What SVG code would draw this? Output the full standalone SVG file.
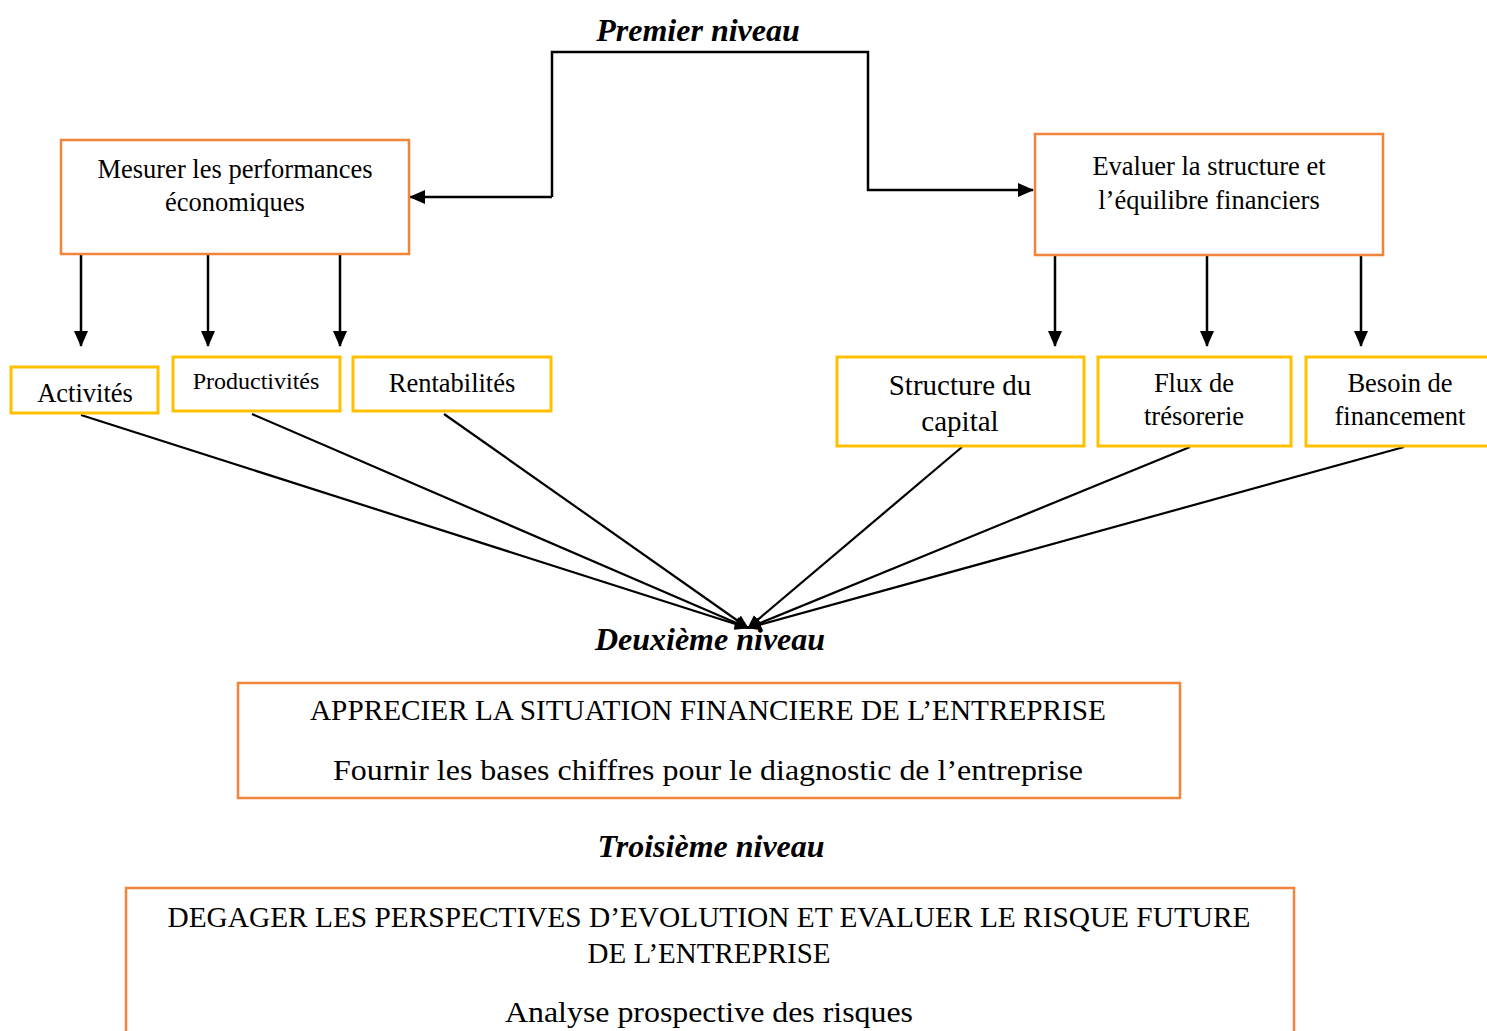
<svg xmlns="http://www.w3.org/2000/svg" width="1487" height="1031" viewBox="0 0 1487 1031">
<style>
text{font-family:"Liberation Serif","Times New Roman",serif;fill:#000;text-anchor:middle}
.t{font-size:26.5px}
.h{font-size:32px;font-weight:bold;font-style:italic}
.big{font-size:28.5px}
.big2{font-size:30px}
.o{fill:#fff;stroke:#F0843A;stroke-width:2.5}
.y{fill:#fff;stroke:#FFC000;stroke-width:3}
.c{fill:none;stroke:#000;stroke-width:2.5}
.d{fill:none;stroke:#000;stroke-width:2.2}
</style>
<defs>
<marker id="a" markerUnits="userSpaceOnUse" markerWidth="16" markerHeight="14" refX="15" refY="7" orient="auto"><path d="M0,0 L16,7 L0,14 Z" fill="#000"/></marker>
<marker id="s" markerUnits="userSpaceOnUse" markerWidth="14" markerHeight="12" refX="13" refY="6" orient="auto"><path d="M0,0 L14,6 L0,12 Z" fill="#000"/></marker>
</defs>
<rect width="1487" height="1031" fill="#fff"/>
<g id="connectors">
<path class="c" d="M552,197 V52 H868 V190 H1033" marker-end="url(#a)"/>
<path class="c" d="M552,197 H410" marker-end="url(#a)"/>
<path class="c" d="M81,255 V346" marker-end="url(#a)"/>
<path class="c" d="M208,255 V346" marker-end="url(#a)"/>
<path class="c" d="M340,255 V346" marker-end="url(#a)"/>
<path class="c" d="M1055,256 V346" marker-end="url(#a)"/>
<path class="c" d="M1207,256 V346" marker-end="url(#a)"/>
<path class="c" d="M1361,256 V346" marker-end="url(#a)"/>
<path class="d" d="M81,415 L748,628" marker-end="url(#s)"/>
<path class="d" d="M252,414 L748,628" marker-end="url(#s)"/>
<path class="d" d="M444,414 L748,628" marker-end="url(#s)"/>
<path class="d" d="M962,447 L748,628" marker-end="url(#s)"/>
<path class="d" d="M1190,447 L748,628" marker-end="url(#s)"/>
<path class="d" d="M1404,447 L748,628" marker-end="url(#s)"/>
</g>
<text class="h" x="698" y="41">Premier niveau</text>
<g id="mesurer">
<rect class="o" x="61" y="140" width="348" height="114"/>
<text class="t" x="235" y="178">Mesurer les performances</text>
<text class="t" x="235" y="211">économiques</text>
</g>
<g id="evaluer">
<rect class="o" x="1035" y="134" width="348" height="121"/>
<text class="t" x="1209" y="175">Evaluer la structure et</text>
<text class="t" x="1209" y="209">l’équilibre financiers</text>
</g>
<g id="activites">
<rect class="y" x="11" y="367" width="147" height="46"/>
<text class="t" x="85" y="402">Activités</text>
</g>
<g id="productivites">
<rect class="y" x="173" y="357" width="167" height="54"/>
<text x="256" y="389" style="font-size:24px">Productivités</text>
</g>
<g id="rentabilites">
<rect class="y" x="353" y="357" width="198" height="54"/>
<text class="t" x="452" y="392">Rentabilités</text>
</g>
<g id="structure">
<rect class="y" x="837" y="357" width="247" height="89"/>
<text x="960" y="395" style="font-size:29px">Structure du</text>
<text x="960" y="431" style="font-size:29px">capital</text>
</g>
<g id="flux">
<rect class="y" x="1098" y="357" width="193" height="89"/>
<text class="t" x="1194" y="392">Flux de</text>
<text class="t" x="1194" y="425">trésorerie</text>
</g>
<g id="besoin">
<rect class="y" x="1306" y="357" width="185" height="89"/>
<text class="t" x="1400" y="392">Besoin de</text>
<text class="t" x="1400" y="425">financement</text>
</g>
<text class="h" x="710" y="650">Deuxième niveau</text>
<g id="apprecier">
<rect class="o" x="238" y="683" width="942" height="115"/>
<text class="big" x="708" y="720" textLength="796" lengthAdjust="spacingAndGlyphs">APPRECIER LA SITUATION FINANCIERE DE L’ENTREPRISE</text>
<text class="big" x="708" y="780" textLength="750" lengthAdjust="spacingAndGlyphs">Fournir les bases chiffres pour le diagnostic de l’entreprise</text>
</g>
<text class="h" x="711" y="857">Troisième niveau</text>
<g id="degager">
<rect class="o" x="126" y="888" width="1168" height="160"/>
<text class="big2" x="709" y="927" textLength="1083" lengthAdjust="spacingAndGlyphs">DEGAGER LES PERSPECTIVES D’EVOLUTION ET EVALUER LE RISQUE FUTURE</text>
<text class="big2" x="709" y="963" textLength="243" lengthAdjust="spacingAndGlyphs">DE L’ENTREPRISE</text>
<text class="big2" x="709" y="1022" textLength="408" lengthAdjust="spacingAndGlyphs">Analyse prospective des risques</text>
</g>
</svg>
